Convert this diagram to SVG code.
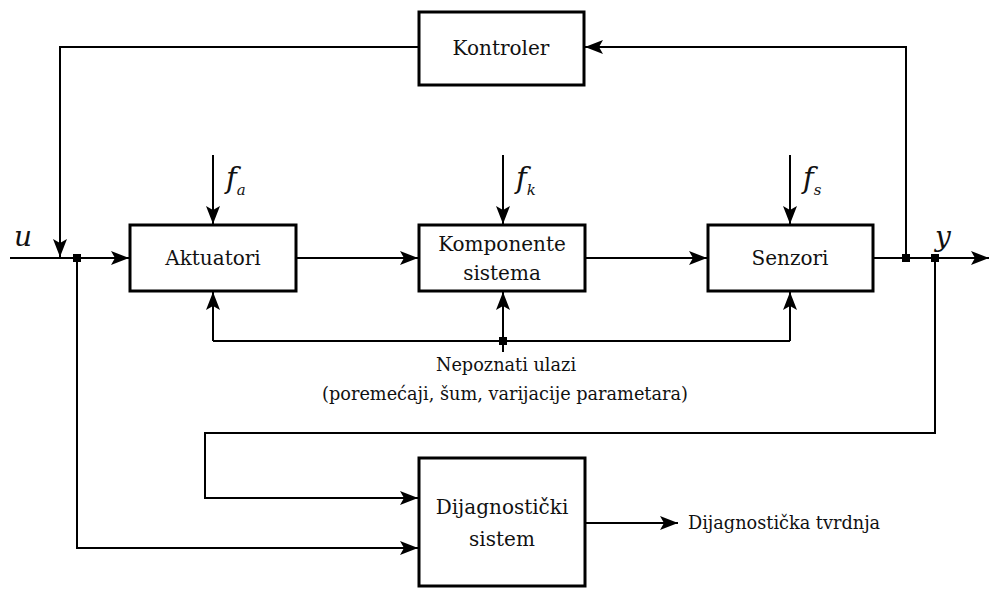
<svg xmlns="http://www.w3.org/2000/svg" width="990" height="589" viewBox="0 0 990 589">
<defs>
<marker id="ah" markerWidth="20" markerHeight="14" refX="18" refY="7" orient="auto" markerUnits="userSpaceOnUse">
<path d="M0,0 L18,7 L0,14 L4,7 Z" fill="#000"/>
</marker>
<style>
.box{fill:#fff;stroke:#000;stroke-width:3}
.ln{fill:none;stroke:#000;stroke-width:2}
text{font-family:'DejaVu Serif',serif}
.lbl{font-size:20px;fill:#111;text-anchor:middle;dominant-baseline:central}
.sm{font-size:17.7px;fill:#111;dominant-baseline:central}
.it{font-style:italic;fill:#111}
</style>
</defs>
<g id="connectors">
<path class="ln" d="M419,47 H60 V257" marker-end="url(#ah)"/>
<path class="ln" d="M10,258 H129" marker-end="url(#ah)"/>
<path class="ln" d="M296,258 H418" marker-end="url(#ah)"/>
<path class="ln" d="M585,258 H707" marker-end="url(#ah)"/>
<path class="ln" d="M873,258 H989" marker-end="url(#ah)"/>
<path class="ln" d="M906,258 V47 H585" marker-end="url(#ah)"/>
<path class="ln" d="M213,155 V224" marker-end="url(#ah)"/>
<path class="ln" d="M503,155 V224" marker-end="url(#ah)"/>
<path class="ln" d="M790,155 V224" marker-end="url(#ah)"/>
<path class="ln" d="M213,341 H790"/>
<path class="ln" d="M213,341 V292" marker-end="url(#ah)"/>
<path class="ln" d="M790,341 V292" marker-end="url(#ah)"/>
<path class="ln" d="M503,352 V292" marker-end="url(#ah)"/>
<path class="ln" d="M935,258 V433 H205 V498 H418" marker-end="url(#ah)"/>
<path class="ln" d="M77,258 V548 H418" marker-end="url(#ah)"/>
<path class="ln" d="M585,523 H678" marker-end="url(#ah)"/>
<rect x="73" y="254" width="8" height="8"/>
<rect x="902" y="254" width="8" height="8"/>
<rect x="931" y="254" width="8" height="8"/>
<rect x="499" y="337" width="8" height="8"/>
</g>
<g id="kontroler">
<rect class="box" x="419" y="12" width="165" height="73"/>
<text class="lbl" x="501" y="48">Kontroler</text>
</g>
<g id="aktuatori">
<rect class="box" x="130" y="225" width="166" height="66"/>
<text class="lbl" x="213" y="258">Aktuatori</text>
</g>
<g id="komponente">
<rect class="box" x="419" y="225" width="166" height="66"/>
<text class="lbl" x="502" y="244">Komponente</text>
<text class="lbl" x="502" y="273">sistema</text>
</g>
<g id="senzori">
<rect class="box" x="708" y="225" width="165" height="66"/>
<text class="lbl" x="790" y="258">Senzori</text>
</g>
<g id="dijagnosticki">
<rect class="box" x="419" y="458" width="166" height="128"/>
<text class="lbl" x="502" y="507">Dijagnostički</text>
<text class="lbl" x="502" y="539">sistem</text>
</g>
<g id="labels">
<text class="it" x="14" y="246" font-size="28">u</text>
<text class="it" x="935" y="246" font-size="28">y</text>
<text class="it" x="226" y="188" font-size="29">f<tspan font-size="15" dy="7">a</tspan></text>
<text class="it" x="516" y="188" font-size="29">f<tspan font-size="15" dy="7">k</tspan></text>
<text class="it" x="803" y="188" font-size="29">f<tspan font-size="15" dy="7">s</tspan></text>
<text class="sm" x="506" y="365" text-anchor="middle">Nepoznati ulazi</text>
<text class="sm" x="505" y="394" text-anchor="middle">(poremećaji, šum, varijacije parametara)</text>
<text class="sm" x="688" y="523">Dijagnostička tvrdnja</text>
</g>
</svg>
